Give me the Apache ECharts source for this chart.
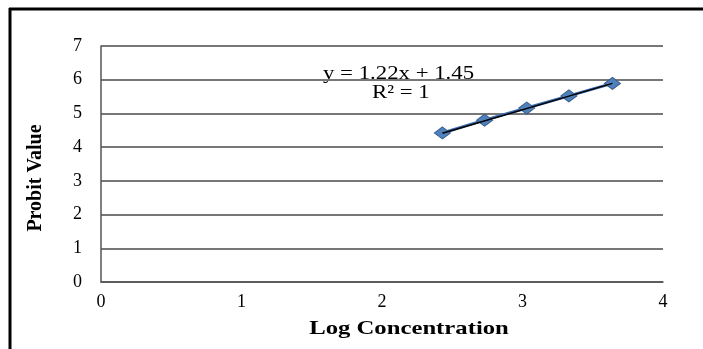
<!DOCTYPE html>
<html>
<head>
<meta charset="utf-8">
<script src="https://cdn.jsdelivr.net/npm/echarts@6/dist/echarts.min.js"></script>
<style>
  html, body { margin: 0; padding: 0; background: #fff; }
  #main { width: 703px; height: 349px; }
</style>
</head>
<body>
<div id="main"></div>
<script>
var logConc = [2.43, 2.73, 3.03, 3.33, 3.64];
var probit = [4.42, 4.80, 5.16, 5.52, 5.89];
var trendSlope = 1.22;
var trendIntercept = 1.45;

var chart = echarts.init(document.getElementById('main'));

var serif = '"Liberation Serif", "DejaVu Serif", serif';

var points = logConc.map(function (x, i) { return [x, probit[i]]; });
var trend = [logConc[0], logConc[logConc.length - 1]].map(function (x) {
    return [x, trendSlope * x + trendIntercept];
});

var option = {
    animation: false,
    grid: { left: 101, right: 40, top: 46, bottom: 67 },
    xAxis: {
        type: 'value',
        min: 0, max: 4, interval: 1,
        axisLine: { show: true, lineStyle: { color: '#555', width: 1.5 } },
        axisTick: { show: false },
        axisLabel: { fontFamily: serif, fontSize: 18, color: '#000', margin: 11 },
        splitLine: { show: false }
    },
    yAxis: {
        type: 'value',
        min: 0, max: 7, interval: 1,
        axisLine: { show: true, lineStyle: { color: '#555', width: 1.5 } },
        axisTick: { show: false },
        axisLabel: { fontFamily: serif, fontSize: 18, color: '#000', margin: 19 },
        splitLine: { show: true, lineStyle: { color: '#777', width: 2 } }
    },
    graphic: [
        { type: 'line', shape: { x1: 9, y1: 9, x2: 703, y2: 9 }, style: { stroke: '#000', lineWidth: 3 } },
        { type: 'line', shape: { x1: 10, y1: 8, x2: 10, y2: 349 }, style: { stroke: '#000', lineWidth: 3 } },
        {
            type: 'text', x: 36, y: 178, rotation: Math.PI / 2,
            style: {
                text: 'Probit Value', font: 'bold 20px ' + serif, fill: '#000',
                align: 'center', verticalAlign: 'middle'
            }
        },
        {
            type: 'text', x: 409, y: 329, scaleX: 1.3,
            style: {
                text: 'Log Concentration', font: 'bold 19px ' + serif, fill: '#000',
                align: 'center', verticalAlign: 'middle'
            }
        },
        {
            type: 'text', x: 323, y: 74, scaleX: 1.2,
            style: {
                text: 'y = 1.22x + 1.45', font: '19px ' + serif, fill: '#000',
                align: 'left', verticalAlign: 'middle'
            }
        },
        {
            type: 'text', x: 372, y: 93, scaleX: 1.2,
            style: {
                text: 'R² = 1', font: '19px ' + serif, fill: '#000',
                align: 'left', verticalAlign: 'middle'
            }
        }
    ],
    series: [
        {
            type: 'line',
            data: points,
            symbol: 'diamond',
            symbolSize: [16, 12],
            lineStyle: { color: '#3C6DB0', width: 3 },
            itemStyle: { color: '#4F81BD', borderColor: '#385D8A', borderWidth: 1 },
            z: 2
        },
        {
            type: 'line',
            data: trend,
            symbol: 'none',
            lineStyle: { color: '#000', width: 1.5 },
            z: 3
        }
    ]
};

chart.setOption(option);
</script>
</body>
</html>
